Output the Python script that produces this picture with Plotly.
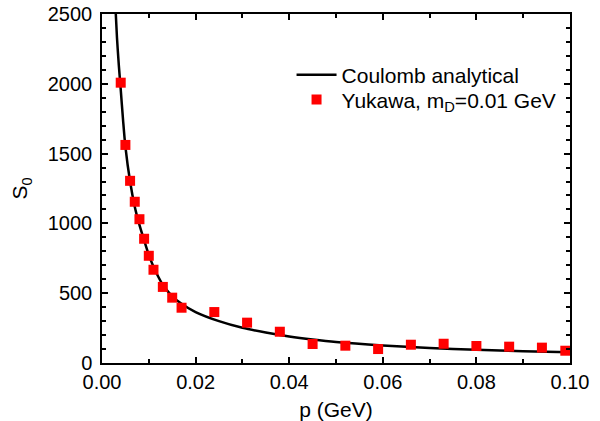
import plotly.graph_objects as go

# Coulomb analytical curve
curve_p = [0.0028, 0.0032, 0.0036, 0.004, 0.0045, 0.005, 0.006, 0.007, 0.008, 0.009,
           0.010, 0.011, 0.012, 0.013, 0.015, 0.017, 0.020, 0.025, 0.030, 0.035,
           0.040, 0.045, 0.050, 0.060, 0.070, 0.080, 0.090, 0.100]
curve_s = [2600, 2330, 2130, 1960, 1740, 1550, 1300, 1120, 990, 880,
           775, 690, 620, 560, 478, 425, 365, 300, 252, 218,
           190, 168, 150, 126, 108, 95, 85, 77]

# Yukawa, m_D = 0.01 GeV points
yuk_p = [0.004, 0.005, 0.006, 0.007, 0.008, 0.009, 0.010, 0.011, 0.013, 0.015,
         0.017, 0.024, 0.031, 0.038, 0.045, 0.052, 0.059, 0.066, 0.073, 0.080,
         0.087, 0.094, 0.099]
yuk_s = [2008, 1562, 1305, 1155, 1030, 890, 768, 668, 545, 468,
         396, 365, 289, 224, 136, 124, 100, 131, 138, 122,
         117, 110, 88]

x_ticks = [0.00, 0.02, 0.04, 0.06, 0.08, 0.10]
x_ticklabels = ["0.00", "0.02", "0.04", "0.06", "0.08", "0.10"]
y_ticks = [0, 500, 1000, 1500, 2000, 2500]

FONT = "Liberation Sans, Arial, sans-serif"

fig = go.Figure()
fig.add_trace(go.Scatter(
    x=curve_p, y=curve_s, mode="lines", name="Coulomb analytical",
    line=dict(color="black", width=2.5, shape="spline", smoothing=0.8),
    legend="legend",
))
fig.add_trace(go.Scatter(
    x=yuk_p, y=yuk_s, mode="markers", name="Yukawa, m<sub>D</sub>=0.01 GeV",
    marker=dict(symbol="square", size=10, color="#ff0000"),
    legend="legend2",
))

axis_common = dict(
    showline=True, linecolor="black", linewidth=1.5, mirror="ticks",
    ticks="inside", ticklen=6, tickwidth=1.5, tickcolor="black",
    showgrid=False, zeroline=False,
    tickfont=dict(family=FONT, size=20, color="black"),
)

fig.update_xaxes(
    range=[0, 0.1], tickvals=x_ticks, ticktext=x_ticklabels,
    minor=dict(ticks="inside", ticklen=4, tickwidth=1.5, tickcolor="black", dtick=0.01),
    title=dict(text="p (GeV)", font=dict(family=FONT, size=21, color="black"), standoff=12),
    automargin=False, **axis_common,
)
fig.update_yaxes(
    range=[0, 2500], tickvals=y_ticks, ticklabelstandoff=4,
    minor=dict(ticks="inside", ticklen=4, tickwidth=1.5, tickcolor="black", dtick=100),
    title=dict(text="S<sub>0</sub>", font=dict(family=FONT, size=21, color="black"), standoff=14),
    automargin=False, **axis_common,
)

leg_common = dict(xanchor="left", yanchor="top", bgcolor="rgba(0,0,0,0)",
                  font=dict(family=FONT, size=21, color="black"), itemwidth=40)

fig.update_layout(
    width=600, height=421,
    margin=dict(l=102, r=30, t=14, b=58),
    paper_bgcolor="white", plot_bgcolor="white",
    font=dict(family=FONT, size=20, color="black"),
    showlegend=True,
    legend=dict(x=0.405, y=0.884, **leg_common),
    legend2=dict(x=0.405, y=0.8126, **leg_common),
)

fig.write_html("out.html",
               config={"displayModeBar": False},
               post_script="document.body.style.margin='0';document.body.style.overflow='hidden';")
